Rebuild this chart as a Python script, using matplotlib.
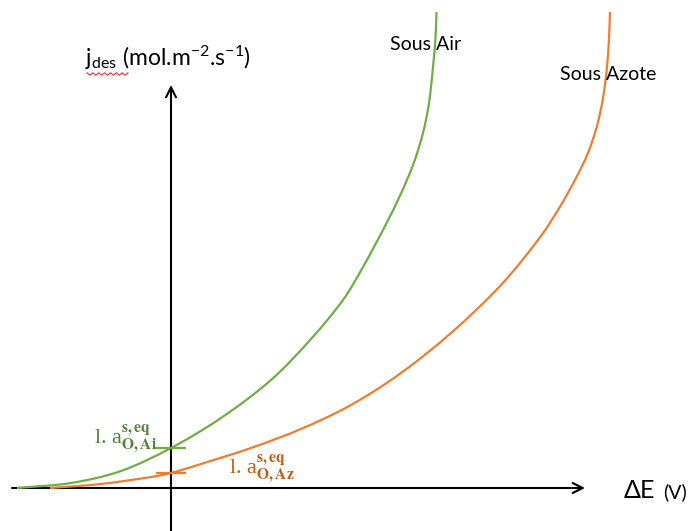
import matplotlib
matplotlib.use('Agg')
import matplotlib.pyplot as plt
from matplotlib.path import Path
from matplotlib.patches import PathPatch
import numpy as np

GREEN = '#70ad47'
ORANGE = '#ed7d31'
GREEN_TXT = '#548235'
ORANGE_TXT = '#c55a11'
BLACK = '#000000'

# schematic curves, ΔE (arbitrary units) vs j_des (arbitrary units)
air_dE = [-154, -100, -50, 0, 50, 100, 140, 172, 192, 212, 227, 242, 252, 258, 262, 264.5, 265.5]
air_j = [0, 5, 17, 40, 70, 108, 149, 188, 221, 258, 288, 323, 355, 385, 421, 450, 476]

azote_dE = [-121, -70, -20, 0, 30, 80, 130, 180, 230, 280, 330, 370, 390, 405, 417, 426, 432, 436, 438, 439]
azote_j = [0, 4, 11, 15, 24, 40, 59, 83, 115, 155, 203, 252, 283, 310, 335, 362, 390, 421, 450, 476]

labels = ['Sous Air', 'Sous Azote']


def smooth_path(xs, ys):
    # cubic bezier through the points, tangents from chord-length differences
    p = np.column_stack([xs, ys]).astype(float)
    t = np.concatenate([[0], np.cumsum(np.hypot(*np.diff(p, axis=0).T))])
    n = len(p)
    m = np.zeros_like(p)
    m[0] = (p[1] - p[0]) / (t[1] - t[0])
    m[-1] = (p[-1] - p[-2]) / (t[-1] - t[-2])
    for i in range(1, n - 1):
        m[i] = (p[i + 1] - p[i - 1]) / (t[i + 1] - t[i - 1])
    verts = [p[0]]
    codes = [Path.MOVETO]
    for i in range(n - 1):
        h = t[i + 1] - t[i]
        verts += [p[i] + m[i] * h / 3, p[i + 1] - m[i + 1] * h / 3, p[i + 1]]
        codes += [Path.CURVE4] * 3
    return Path(verts, codes)


plt.rcParams['font.family'] = ['Lato', 'DejaVu Sans']
plt.rcParams['mathtext.fontset'] = 'custom'
plt.rcParams['mathtext.rm'] = 'Lato'
plt.rcParams['mathtext.it'] = 'Lato'

fig = plt.figure(figsize=(6.96, 5.31), dpi=100)
ax = fig.add_axes([0, 0, 1, 1])
ax.set_xlim(-171, 525)
ax.set_ylim(-43, 488)
ax.axis('off')

# axes with arrows
ax.annotate('', xy=(414, 0), xytext=(-159, 0),
            arrowprops=dict(arrowstyle='->', color=BLACK, lw=1.5, mutation_scale=18, shrinkA=0, shrinkB=0))
ax.annotate('', xy=(0, 403), xytext=(0, -43),
            arrowprops=dict(arrowstyle='->', color=BLACK, lw=1.5, mutation_scale=18, shrinkA=0, shrinkB=0))

# curves
for xs, ys, c in [(air_dE, air_j, GREEN), (azote_dE, azote_j, ORANGE)]:
    ax.add_patch(PathPatch(smooth_path(xs, ys), facecolor='none', edgecolor=c, lw=1.6, zorder=3))

# intercept marks
y_air = air_j[air_dE.index(0)]
y_az = azote_j[azote_dE.index(0)]
ax.plot([-15, 14], [y_air, y_air], color=GREEN, lw=1.6, zorder=3)
ax.plot([-14, 14], [y_az, y_az], color=ORANGE, lw=1.6, zorder=3)

ax.text(-77, y_air + 4, r'l. a$_{\mathbf{O,Ai}}^{\mathbf{s,eq}}$', color=GREEN_TXT, fontsize=16,
        family='Liberation Serif', math_fontfamily='stix', ha='left', va='baseline')
ax.text(58, y_az - 1, r'l. a$_{\mathbf{O,Az}}^{\mathbf{s,eq}}$', color=ORANGE_TXT, fontsize=16,
        family='Liberation Serif', math_fontfamily='stix', ha='left', va='baseline')

# axis titles
ax.text(-86, 430, r'j$_{\mathregular{des}}$ (mol.m$^{\mathregular{-2}}$.s$^{\mathregular{-1}}$)',
        fontsize=16.5, ha='left', va='center', color=BLACK)
zig_x = np.linspace(-84, -43, 15)
zig_y = 414 + 1.2 * (-1) ** np.arange(15)
ax.plot(zig_x, zig_y, color='#e03030', lw=0.8)

ax.text(453, -3, 'ΔE', fontsize=18, ha='left', va='center', color=BLACK)
ax.text(492, -4, '(V)', fontsize=14, ha='left', va='center', color=BLACK)

ax.text(219, 443, labels[0], fontsize=14, ha='left', va='center', color=BLACK)
ax.text(389, 413, labels[1], fontsize=14, ha='left', va='center', color=BLACK)

fig.savefig('out.png', dpi=100, facecolor='white')
